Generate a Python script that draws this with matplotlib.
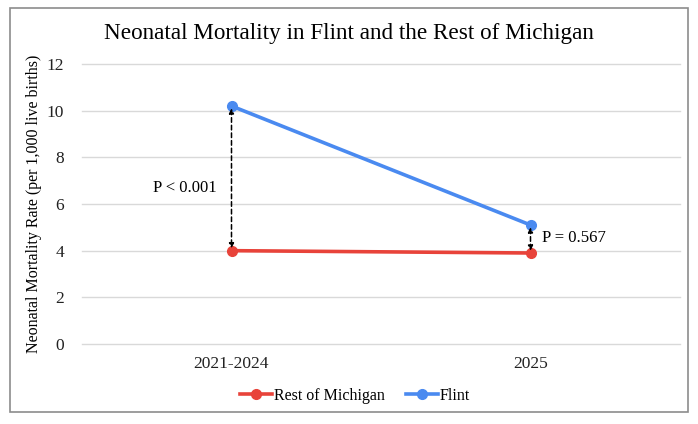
import numpy as np
import matplotlib.pyplot as plt
from matplotlib.patches import Rectangle

periods = ["2021-2024", "2025"]
rest_of_michigan = [4.0, 3.9]
flint = [10.2, 5.1]
p_labels = ["P < 0.001", "P = 0.567"]

plt.rcParams["font.family"] = ["Liberation Serif", "DejaVu Serif"]

fig = plt.figure(figsize=(6.98, 4.24), dpi=100)
ax = fig.add_axes([82 / 698, 1 - 344 / 424, 598 / 698, 280 / 424])

x = np.arange(len(periods))
ax.plot(x, rest_of_michigan, color="#e8433a", lw=2.6, marker="o", ms=7,
        label="Rest of Michigan", zorder=3)
ax.plot(x, flint, color="#4a8af0", lw=2.6, marker="o", ms=7,
        label="Flint", zorder=3)

# dashed double-headed arrows between the two series
for i in x:
    ax.annotate("", xy=(i, rest_of_michigan[i] + 0.1), xytext=(i, flint[i] - 0.1),
                arrowprops=dict(arrowstyle="<|-|>", linestyle=(0, (3, 2)),
                                color="black", lw=1.1, mutation_scale=7,
                                shrinkA=0, shrinkB=0),
                zorder=4)

ax.text(-0.05, 6.7, p_labels[0], ha="right", va="center", fontsize=12)
ax.text(1.04, 4.55, p_labels[1], ha="left", va="center", fontsize=12)

ax.set_xlim(-0.5, 1.5)
ax.set_ylim(0, 12)
ax.set_yticks(range(0, 13, 2))
ax.set_xticks(x)
ax.set_xticklabels(periods)
ax.tick_params(axis="both", length=0, labelsize=12.5, colors="#222222")
ax.tick_params(axis="y", pad=13)
ax.tick_params(axis="x", pad=9)
ax.grid(axis="y", color="#d9d9d9", lw=1)
for gl in ax.get_ygridlines():
    gl.set_clip_on(False)
ax.set_axisbelow(True)
for s in ax.spines.values():
    s.set_visible(False)
ax.set_ylabel("Neonatal Mortality Rate (per 1,000 live births)", fontsize=11.5,
              labelpad=3)

fig.suptitle("Neonatal Mortality in Flint and the Rest of Michigan",
             fontsize=16.7, y=1 - 33 / 424, va="center")

ax.legend(loc="center", bbox_to_anchor=(355 / 698, 1 - 396 / 424),
          bbox_transform=fig.transFigure, ncol=2, frameon=False,
          fontsize=11.5, handlelength=2.0, columnspacing=1.3, handletextpad=0.15)

fig.patches.append(Rectangle((10 / 698, 1 - 412 / 424), 678 / 698, 404 / 424,
                             transform=fig.transFigure, fill=False,
                             edgecolor="#8c8c8c", lw=1.2))

fig.savefig("out.png", dpi=100)
